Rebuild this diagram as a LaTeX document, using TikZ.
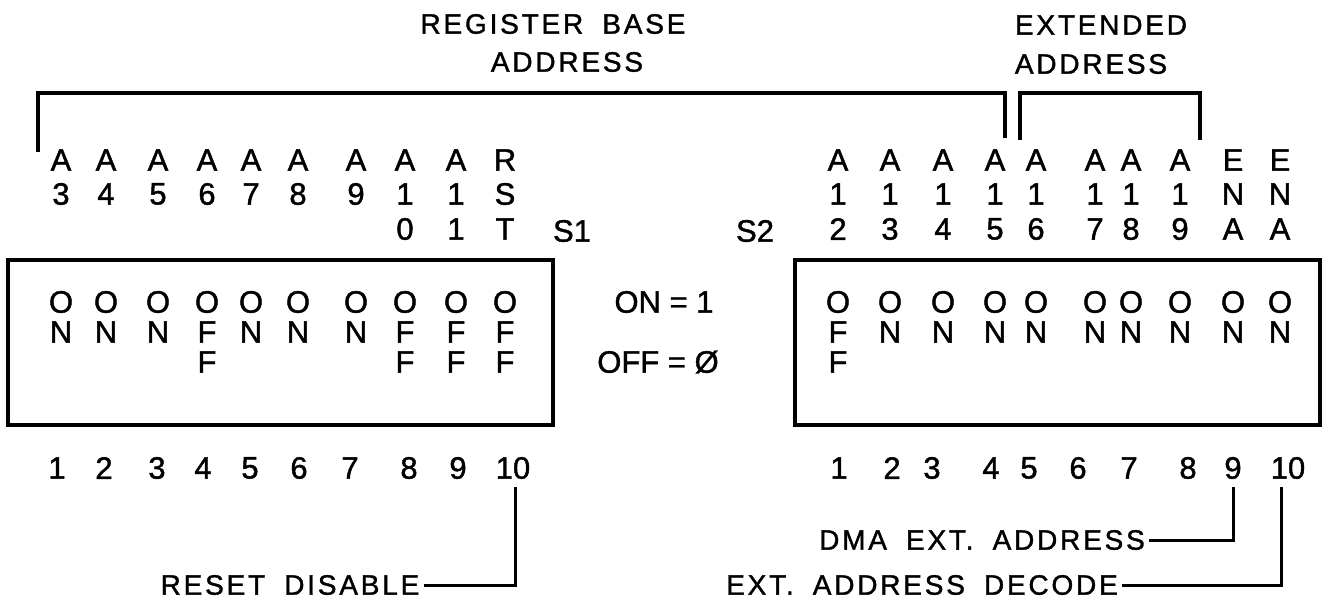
\documentclass[tikz,border=0pt]{standalone}
\usepackage{fontspec}
\setmainfont{Liberation Sans}
\newfontfamily\charfont[FakeBold=1.3]{Liberation Sans}
\newfontfamily\spacedfont[LetterSpace=10,WordSpace=1.8,FakeBold=1.3]{Liberation Sans}
\begin{document}
\begin{tikzpicture}[x=1pt,y=-1pt,
  ch/.style={inner sep=0pt, font=\charfont\fontsize{31}{31}\selectfont},
  title/.style={inner sep=0pt, font=\spacedfont\fontsize{28}{28}\selectfont},
  heavy/.style={line width=3.5pt},
  boxline/.style={line width=4pt},
  leader/.style={line width=3pt}]
\useasboundingbox (0,0) rectangle (1330,615);

% titles
\node[title] (rb)  at (553,24) {REGISTER BASE};
\node[title] (rba) at (567,62) {ADDRESS};
\node[title] (ex)  at (1101,25) {EXTENDED};
\node[title] (exa) at (1091,64) {ADDRESS};

% brackets
\coordinate (top) at (0,93);
\coordinate (b1a) at (38,152);
\coordinate (b1b) at (1005,138);
\coordinate (b2a) at (1020,140);
\coordinate (b2b) at (1200,140);
\draw[heavy] (b1a) -- (b1a |- top) -- (b1b |- top) -- (b1b);
\draw[heavy] (b2a) -- (b2a |- top) -- (b2b |- top) -- (b2b);

% S1 labels
\foreach \x/\t [count=\i] in {61/A,106/A,158/A,207/A,251/A,298/A,356/A,405/A,456/A,505/R}
  \node[ch] (la\i) at (\x,160) {\t};
\foreach \x/\t [count=\i] in {61/3,106/4,158/5,207/6,251/7,298/8,356/9,405/1,456/1,505/S}
  \node[ch] (lb\i) at (\x,194) {\t};
\node[ch] (lc8) at (405,229) {0};
\node[ch] (lc9) at (456,229) {1};
\node[ch] (lc10) at (505,229) {T};
\node[ch] (s1) at (572,231) {S1};

% S2 labels
\foreach \x/\t [count=\i] in {838/A,890/A,943/A,995/A,1036/A,1095/A,1131/A,1180/A,1233/E,1280/E}
  \node[ch] (ra\i) at (\x,160) {\t};
\foreach \x/\t [count=\i] in {838/1,890/1,943/1,995/1,1036/1,1095/1,1131/1,1180/1,1233/N,1280/N}
  \node[ch] (rb\i) at (\x,194) {\t};
\foreach \x/\t [count=\i] in {838/2,890/3,943/4,995/5,1036/6,1095/7,1131/8,1180/9,1233/A,1280/A}
  \node[ch] (rc\i) at (\x,229) {\t};
\node[ch] (s2) at (755,231) {S2};

% switch boxes
\draw[boxline] (8,260) rectangle (553,425);
\draw[boxline] (795,260) rectangle (1320,425);

% S1 switch states
\foreach \x/\t [count=\i] in {61/O,106/O,158/O,207/O,251/O,298/O,356/O,405/O,456/O,505/O}
  \node[ch] (lo\i) at (\x,302) {\t};
\foreach \x/\t [count=\i] in {61/N,106/N,158/N,207/F,251/N,298/N,356/N,405/F,456/F,505/F}
  \node[ch] (ln\i) at (\x,332) {\t};
\node[ch] (lf4) at (207,362) {F};
\node[ch] (lf8) at (405,362) {F};
\node[ch] (lf9) at (456,362) {F};
\node[ch] (lf10) at (505,362) {F};

% S2 switch states
\foreach \x/\t [count=\i] in {838/O,890/O,943/O,995/O,1036/O,1095/O,1131/O,1180/O,1233/O,1280/O}
  \node[ch] (ro\i) at (\x,302) {\t};
\foreach \x/\t [count=\i] in {838/F,890/N,943/N,995/N,1036/N,1095/N,1131/N,1180/N,1233/N,1280/N}
  \node[ch] (rn\i) at (\x,332) {\t};
\node[ch] (rf1) at (838,362) {F};

% legend
\node[ch] (on)  at (664,302) {ON = 1};
\node[ch] (off) at (658,362) {OFF = Ø};

% switch numbers
\foreach \x/\t [count=\i] in {57/1,104/2,157/3,203/4,250/5,299/6,350/7,409/8,458/9,513/10}
  \node[ch] (lnum\i) at (\x,468) {\t};
\foreach \x/\t [count=\i] in {839/1,892/2,932/3,991/4,1029/5,1078/6,1129/7,1188/8,1233/9,1288/10}
  \node[ch] (rnum\i) at (\x,468) {\t};

% notes
\node[title] (reset) at (290,585) {RESET DISABLE};
\node[title] (dma)   at (982,540) {DMA EXT. ADDRESS};
\node[title] (dec)   at (922,585) {EXT. ADDRESS DECODE};
\coordinate (u1) at (515,487);
\coordinate (u2) at (1233,487);
\coordinate (u3) at (1281,487);
\draw[leader] ([xshift=4pt]reset.east) -| (u1);
\draw[leader] ([xshift=4pt]dma.east) -| (u2);
\draw[leader] ([xshift=4pt]dec.east) -| (u3);
\end{tikzpicture}
\end{document}
